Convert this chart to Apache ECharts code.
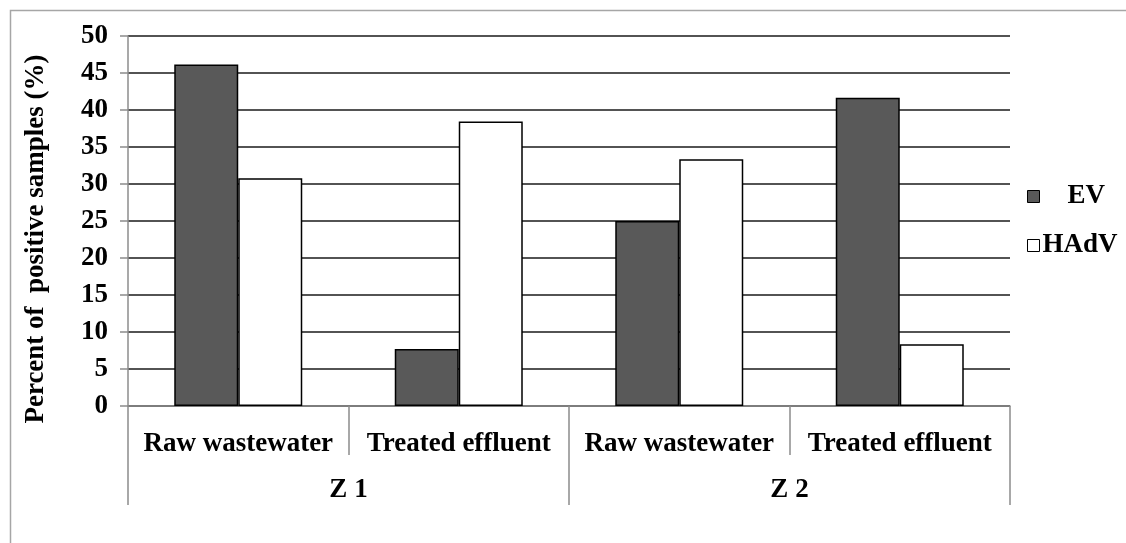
<!DOCTYPE html>
<html>
<head>
<meta charset="utf-8">
<style>
  html, body { margin: 0; padding: 0; background: #ffffff; }
  #chart { width: 1126px; height: 543px; }
</style>
<script src="https://cdn.jsdelivr.net/npm/echarts@6/dist/echarts.min.js"></script>
</head>
<body>
<div id="chart"></div>
<script>
// Sampling sites within each treatment zone, and the zones themselves
const sites = ['Raw wastewater', 'Treated effluent'];
const zones = ['Z 1', 'Z 2'];

// Percent of positive samples per zone/site
const evValues = [46.15, 7.69, 25.0, 41.67];
const hadvValues = [30.77, 38.46, 33.33, 8.33];

const yTicks = { min: 0, max: 50, interval: 5 };

// One category per zone/site pair, in zone order
const categories = [];
zones.forEach(() => sites.forEach(s => categories.push(s)));

const serif = 'Liberation Serif, Times New Roman, serif';
const axisGray = '#8c8c8c';
const fontSize = 27;

const chart = echarts.init(document.getElementById('chart'), null, { renderer: 'canvas' });

chart.setOption({
  animation: false,
  backgroundColor: '#ffffff',
  graphic: [{
    type: 'rect',
    left: 8, top: 8,
    shape: { width: 1200, height: 600 },
    style: { fill: 'none', stroke: '#a6a6a6', lineWidth: 1.5 },
    z: -10
  }],
  grid: { left: 128, right: 116, top: 36, bottom: 137 },
  legend: {
    orient: 'vertical',
    left: 1027,
    top: 183,
    padding: 0,
    itemWidth: 12,
    itemHeight: 12,
    itemGap: 22,
    icon: 'rect',
    itemStyle: { borderColor: '#000', borderWidth: 1 },
    textStyle: { fontFamily: serif, fontWeight: 'bold', fontSize: fontSize, lineHeight: 27, color: '#000' },
    data: [
      { name: 'EV', textStyle: { padding: [0, 0, 0, 23] } },
      { name: 'HAdV', textStyle: { padding: [0, 0, 0, -2] } }
    ]
  },
  xAxis: [
    {
      type: 'category',
      data: categories,
      position: 'bottom',
      axisLine: { show: true, lineStyle: { color: axisGray, width: 1.5 } },
      axisTick: { show: true, interval: 0, length: 49, lineStyle: { color: axisGray, width: 1.5 } },
      axisLabel: { interval: 0, margin: 25, fontFamily: serif, fontWeight: 'bold', fontSize: fontSize, color: '#000' },
      splitLine: { show: false }
    },
    {
      type: 'category',
      data: zones,
      position: 'bottom',
      offset: 0,
      axisLine: { show: false },
      axisTick: { show: true, interval: 0, length: 99, lineStyle: { color: axisGray, width: 1.5 } },
      axisLabel: { interval: 0, margin: 71, fontFamily: serif, fontWeight: 'bold', fontSize: fontSize, color: '#000' },
      splitLine: { show: false }
    }
  ],
  yAxis: {
    type: 'value',
    min: yTicks.min,
    max: yTicks.max,
    interval: yTicks.interval,
    name: 'Percent of  positive samples (%)',
    nameLocation: 'middle',
    nameGap: 78,
    nameTextStyle: { fontFamily: serif, fontWeight: 'bold', fontSize: fontSize, color: '#000', padding: [0, 36, 0, 0] },
    axisLine: { show: true, lineStyle: { color: axisGray, width: 1.5 } },
    axisTick: { show: true, length: 8, lineStyle: { color: axisGray, width: 1.5 } },
    axisLabel: { margin: 20, padding: [5, 0, 0, 0], fontFamily: serif, fontWeight: 'bold', fontSize: fontSize, color: '#000' },
    splitLine: { show: true, lineStyle: { color: '#1a1a1a', width: 1.5 } }
  },
  series: [
    {
      name: 'EV',
      type: 'bar',
      data: evValues,
      barWidth: 64,
      barGap: '0%',
      itemStyle: { color: '#595959', borderColor: '#000', borderWidth: 1.5 }
    },
    {
      name: 'HAdV',
      type: 'bar',
      data: hadvValues,
      barWidth: 64,
      barGap: '0%',
      itemStyle: { color: '#ffffff', borderColor: '#000', borderWidth: 1.5 }
    }
  ]
});
</script>
</body>
</html>
